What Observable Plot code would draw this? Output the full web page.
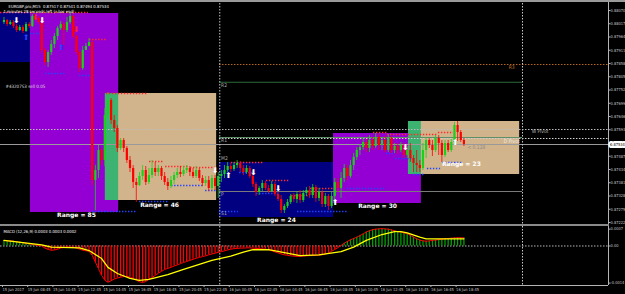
<!DOCTYPE html>
<html><head><meta charset="utf-8">
<script src="https://cdn.jsdelivr.net/npm/d3@7"></script>
<script src="https://cdn.jsdelivr.net/npm/@observablehq/plot@0.6"></script>
<style>
html,body{margin:0;padding:0;background:#000;}
#wrap{position:relative;width:625px;height:294px;background:#000;overflow:hidden;}
#main,#macd{position:absolute;left:0;}
#main{top:0;} #macd{top:224px;}
#sep{position:absolute;left:0;top:224px;width:609px;height:2px;background:#8a8a8a;}
#topbar{position:absolute;left:0;top:0;width:625px;height:2px;background:#9a9a9a;}
</style></head>
<body><div id="wrap"><div id="main"></div><div id="macd"></div><div id="sep"></div><div id="topbar"></div></div>
<script>
// ---------- data ----------
const open0 = 0.88022;
const closes = [0.88030,0.88014,0.88022,0.88006,0.87990,0.88002,0.87986,0.88014,0.88006,0.88046,
0.88038,0.88022,0.87910,0.87862,0.87902,0.87934,0.87966,0.87998,0.88014,0.87990,
0.88022,0.88046,0.87966,0.87902,0.87838,0.87910,0.87926,0.87942,0.87390,0.87430,
0.87510,0.87470,0.87650,0.87710,0.87630,0.87598,0.87518,0.87550,0.87518,0.87470,
0.87438,0.87382,0.87370,0.87406,0.87430,0.87382,0.87410,0.87438,0.87422,0.87438,
0.87406,0.87382,0.87366,0.87390,0.87410,0.87422,0.87414,0.87430,0.87438,0.87422,
0.87406,0.87430,0.87398,0.87378,0.87390,0.87358,0.87398,0.87366,0.87406,0.87414,
0.87430,0.87446,0.87434,0.87450,0.87458,0.87438,0.87422,0.87438,0.87406,0.87374,
0.87342,0.87358,0.87378,0.87358,0.87346,0.87374,0.87334,0.87314,0.87270,0.87286,
0.87302,0.87326,0.87314,0.87334,0.87310,0.87338,0.87350,0.87330,0.87362,0.87318,
0.87342,0.87294,0.87326,0.87286,0.87326,0.87382,0.87358,0.87398,0.87438,0.87406,
0.87450,0.87482,0.87510,0.87522,0.87542,0.87518,0.87550,0.87526,0.87562,0.87530,
0.87550,0.87510,0.87558,0.87510,0.87526,0.87510,0.87530,0.87490,0.87510,0.87478,
0.87458,0.87450,0.87438,0.87510,0.87550,0.87530,0.87510,0.87558,0.87538,0.87490,
0.87538,0.87510,0.87542,0.87610,0.87582,0.87550,0.87534];
const highs = [0.88042,0.88034,0.88030,0.88030,0.88014,0.88010,0.88010,0.88022,0.88022,0.88054,
0.88054,0.88046,0.88030,0.87918,0.87910,0.87950,0.87978,0.88006,0.88026,0.88022,
0.88042,0.88062,0.88050,0.87970,0.87910,0.87926,0.87938,0.87958,0.87950,0.87450,
0.87530,0.87518,0.87678,0.87742,0.87718,0.87650,0.87610,0.87558,0.87558,0.87526,
0.87486,0.87450,0.87398,0.87422,0.87450,0.87446,0.87438,0.87470,0.87462,0.87450,
0.87446,0.87422,0.87398,0.87406,0.87422,0.87438,0.87446,0.87446,0.87450,0.87446,
0.87438,0.87446,0.87438,0.87410,0.87406,0.87406,0.87410,0.87410,0.87422,0.87430,
0.87450,0.87462,0.87458,0.87462,0.87470,0.87466,0.87450,0.87450,0.87446,0.87414,
0.87382,0.87366,0.87390,0.87386,0.87370,0.87386,0.87382,0.87342,0.87330,0.87294,
0.87314,0.87334,0.87338,0.87346,0.87350,0.87350,0.87362,0.87366,0.87374,0.87370,
0.87358,0.87350,0.87338,0.87334,0.87342,0.87398,0.87398,0.87422,0.87454,0.87450,
0.87470,0.87498,0.87522,0.87534,0.87558,0.87554,0.87570,0.87562,0.87578,0.87574,
0.87562,0.87566,0.87574,0.87566,0.87538,0.87538,0.87542,0.87538,0.87526,0.87538,
0.87490,0.87510,0.87470,0.87538,0.87562,0.87558,0.87550,0.87570,0.87570,0.87550,
0.87550,0.87550,0.87554,0.87622,0.87626,0.87590,0.87558];
const lows = [0.88014,0.88006,0.88010,0.87998,0.87982,0.87986,0.87978,0.87982,0.87998,0.88002,
0.88030,0.88014,0.87898,0.87850,0.87842,0.87890,0.87918,0.87950,0.87990,0.87930,
0.87982,0.88014,0.87958,0.87890,0.87822,0.87830,0.87910,0.87926,0.87370,0.87270,
0.87398,0.87450,0.87446,0.87638,0.87614,0.87582,0.87502,0.87510,0.87502,0.87458,
0.87422,0.87358,0.87302,0.87366,0.87390,0.87370,0.87374,0.87398,0.87406,0.87406,
0.87390,0.87370,0.87350,0.87358,0.87374,0.87398,0.87402,0.87406,0.87418,0.87406,
0.87398,0.87398,0.87386,0.87366,0.87366,0.87346,0.87350,0.87350,0.87318,0.87382,
0.87398,0.87422,0.87422,0.87426,0.87438,0.87422,0.87410,0.87414,0.87398,0.87362,
0.87326,0.87330,0.87346,0.87350,0.87338,0.87342,0.87326,0.87306,0.87258,0.87258,
0.87278,0.87294,0.87302,0.87298,0.87298,0.87302,0.87326,0.87318,0.87318,0.87302,
0.87306,0.87282,0.87282,0.87270,0.87278,0.87302,0.87342,0.87318,0.87382,0.87390,
0.87398,0.87430,0.87470,0.87490,0.87510,0.87502,0.87502,0.87510,0.87518,0.87510,
0.87510,0.87502,0.87502,0.87498,0.87498,0.87494,0.87502,0.87478,0.87478,0.87462,
0.87422,0.87422,0.87422,0.87430,0.87478,0.87518,0.87486,0.87502,0.87490,0.87462,
0.87482,0.87502,0.87502,0.87534,0.87546,0.87542,0.87526];

// MACD histogram (one per bar) and signal line
const histogram = [0.00020,0.00019,0.00019,0.00018,0.00016,0.00014,0.00012,0.00010,0.00008,0.00006,
0.00004,0.00002,0.00000,-0.00008,-0.00013,-0.00016,-0.00015,-0.00012,-0.00008,-0.00005,
-0.00004,-0.00004,-0.00005,-0.00008,-0.00012,-0.00016,-0.00018,-0.00020,-0.00035,-0.00060,
-0.00085,-0.00110,-0.00128,-0.00136,-0.00130,-0.00124,-0.00120,-0.00117,-0.00115,-0.00114,
-0.00116,-0.00122,-0.00128,-0.00134,-0.00137,-0.00133,-0.00125,-0.00118,-0.00110,-0.00102,
-0.00095,-0.00088,-0.00084,-0.00080,-0.00075,-0.00071,-0.00066,-0.00062,-0.00058,-0.00054,
-0.00050,-0.00046,-0.00043,-0.00040,-0.00037,-0.00033,-0.00030,-0.00027,-0.00024,-0.00021,
-0.00018,-0.00015,-0.00012,-0.00010,-0.00009,-0.00008,-0.00008,-0.00007,-0.00007,-0.00008,
-0.00009,-0.00010,-0.00011,-0.00012,-0.00014,-0.00018,-0.00022,-0.00026,-0.00030,-0.00033,
-0.00035,-0.00037,-0.00038,-0.00039,-0.00039,-0.00038,-0.00037,-0.00036,-0.00036,-0.00035,
-0.00034,-0.00033,-0.00030,-0.00026,-0.00020,-0.00013,-0.00006,0.00002,0.00010,0.00017,
0.00023,0.00028,0.00033,0.00039,0.00045,0.00052,0.00057,0.00061,0.00063,0.00064,
0.00065,0.00064,0.00063,0.00060,0.00057,0.00054,0.00052,0.00049,0.00046,0.00040,
0.00033,0.00027,0.00022,0.00019,0.00018,0.00019,0.00021,0.00022,0.00024,0.00025,
0.00027,0.00028,0.00029,0.00030,0.00031,0.00031,0.00030];
const signalBar = [0,12,15,24,27,31,33,36,40,43,46,52,57,62,66,72,76,79,84,89,94,100,107,111,115,120,124,126,128,132,134,139,146];
const signalVal = [0.00021,0.00004,-0.00004,-0.00007,-0.00017,-0.00047,-0.00080,-0.00103,-0.00121,-0.00129,-0.00125,-0.00107,-0.00088,-0.00069,-0.00054,-0.00038,-0.00023,-0.00014,-0.00014,-0.00025,-0.00036,-0.00033,-0.00021,-0.00004,0.00021,0.00043,0.00054,0.00054,0.00049,0.00033,0.00027,0.00027,0.00027];

// session boxes
const boxStart = [-1.11, 8.4, 32.2, 32.2, 68.4, 104.6, 128.4, 128.4];
const boxEnd   = [8.4, 36.4, 67.5, 36.4, 104.6, 132.5, 163.7, 132.5];
const boxHigh  = [0.88062, 0.88058, 0.87738, 0.87738, 0.87462, 0.87578, 0.87626, 0.87626];
const boxLow   = [0.87862, 0.87262, 0.87310, 0.87310, 0.87242, 0.87298, 0.87414, 0.87414];
const boxColor = ["#000080","#9400d3","#d2b48c","#3cb371","#000080","#9400d3","#d2b48c","#3cb371"];
const rangeValue = [85, 46, 24, 30, 23];
const rangeBar   = [23, 49.4, 86.5, 118.6, 145.2];
const rangePrice = [0.87250, 0.87290, 0.87230, 0.87286, 0.87454];

// dotted high/low segments
const redSegStart = [-1.11, 27.2, 32.5, 46.2, 51.3, 59.2, 72.2, 83.3, 91.3, 97.3, 117.3, 121.7, 137.9];
const redSegEnd   = [26.8, 32.5, 45.6, 50.6, 58.6, 67.5, 82.7, 90.6, 97.3, 104.6, 121.7, 137.6, 142.7];
const redSegPrice = [0.88062, 0.87954, 0.87738, 0.87466, 0.87446, 0.87442, 0.87462, 0.87390, 0.87330, 0.87358, 0.87582, 0.87574, 0.87582];
const blueSegStart = [8.4, 13.2, 24, 28.1, 43, 53.2, 64, 74.8, 80.2, 68.4, 93.2, 109, 121.4, 124.3, 130, 134.4, 139.2];
const blueSegEnd   = [12.5, 19.5, 27.5, 42.4, 52.2, 63.7, 67.5, 79.2, 87.1, 74.4, 109.4, 121.1, 123.7, 130, 133.8, 138.6, 145.6];
const blueSegPrice = [0.87978, 0.87818, 0.87810, 0.87266, 0.87306, 0.87370, 0.87350, 0.87422, 0.87338, 0.87266, 0.87266, 0.87358, 0.87498, 0.87478, 0.87414, 0.87438, 0.87462];

// arrows
const arrowBar   = [4, 12.2, 67.1, 71.3, 79.2, 87.1, 105.2, 127.5, 143.3, 7.1, 18.3, 10, 23];
const arrowPrice = [0.88030, 0.88030, 0.87430, 0.87410, 0.87422, 0.87358, 0.87302, 0.87522, 0.87542, 0.87962, 0.87922, 0.88042, 0.87994];
const arrowDir   = ["down","down","down","up","down","down","up","down","up","up","up","down","down"];
const arrowColor = ["#ffffff","#ffffff","#ffffff","#ffffff","#ffffff","#ffffff","#ffffff","#ffffff","#ffffff","#2040ff","#2040ff","#ff2020","#ff2020"];

// pivot / level lines
const daySeparators = [68.5, 164.6];
const currentPrice = 0.87534;
const pivotLabels = ["R2", "R1", "M2", "P", "S1"];
const pivotLabelPrice = [0.87783, 0.87562, 0.87490, 0.87346, 0.87270];

const priceTicks = [0.88070,0.88017,0.87964,0.87911,0.87858,0.87805,0.87752,0.87699,0.87646,0.87593,0.87487,0.87434,0.87381,0.87328,0.87275,0.87222];
const macdTicks = [0.00063, 0, -0.00139];
const macdTickLabels = ["0.0007", "0.00", "-0.0014"];
const timeTickBar = [0,8,16,24,32,40,48,56,64,72,80,88,96,104,112,120,128,136,144];
const timeLabels = ["15 Jun 2017","15 Jun 08:45","15 Jun 10:45","15 Jun 12:45","15 Jun 14:45","15 Jun 16:45","15 Jun 18:45","15 Jun 20:45","15 Jun 22:45","16 Jun 00:45","16 Jun 02:45","16 Jun 04:45","16 Jun 06:45","16 Jun 08:45","16 Jun 10:45","16 Jun 12:45","16 Jun 14:45","16 Jun 16:45","16 Jun 18:45"];

// ---------- build tables ----------
const xDomain = [-1.11, 191.9];
const xEnd = xDomain[1];
const candles = closes.map((c, i) => ({i, open: i ? closes[i - 1] : open0, close: c, high: highs[i], low: lows[i]}));
const boxes = boxStart.map((s, k) => ({s, e: boxEnd[k], hi: boxHigh[k], lo: boxLow[k], c: boxColor[k]}));
const rangeLabels = rangeValue.map((v, k) => ({t: "Range = " + v, x: rangeBar[k], y: rangePrice[k]}));
const redSegs = redSegStart.map((s, k) => ({s, e: redSegEnd[k], y: redSegPrice[k]}));
const blueSegs = blueSegStart.map((s, k) => ({s, e: blueSegEnd[k], y: blueSegPrice[k]}));
const arrows = arrowBar.map((x, k) => ({x, y: arrowPrice[k], t: arrowDir[k] === "up" ? "\u2B06" : "\u2B07", c: arrowColor[k]}));
const solidLevels = [
  {y: 0.87783, s: 68.4, e: 164.6, c: "#2d6a3a"},
  {y: 0.87562, s: 68.4, e: 164.6, c: "#5e8f66"},
  {y: currentPrice, s: xDomain[0], e: xEnd, c: "#9a9a9a"},
  {y: 0.87346, s: 68.4, e: 164.6, c: "#7a7a7a"}
];
const dottedLevels = [
  {y: 0.87854, s: 68.4, e: xEnd, c: "#b8681e"},
  {y: 0.87594, s: xDomain[0], e: xEnd, c: "#bdbdbd"},
  {y: 0.87558, s: 68.4, e: xEnd, c: "#d0d0d0"}
];
const pivots = pivotLabels.map((t, k) => ({t, y: pivotLabelPrice[k]}));
const hist = histogram.map((v, i) => ({i, v}));
const signal = signalBar.map((i, k) => ({i, v: signalVal[k]}));

const UP = "#19d119", DOWN = "#ff0000";
const FONT = "'DejaVu Sans Condensed','Liberation Sans Narrow',sans-serif";
const style = {background: "transparent", color: "#c4c4c4", fontFamily: FONT, fontSize: "4px", overflow: "visible"};

const main = Plot.plot({
  width: 625, height: 224, marginLeft: 0, marginRight: 17, marginTop: 0, marginBottom: 0,
  x: {domain: xDomain, axis: null, label: null},
  y: {domain: [0.87214, 0.88110], label: null},
  style,
  marks: [
    Plot.rect(boxes, {x1: "s", x2: "e", y1: "lo", y2: "hi", fill: "c"}),
    Plot.ruleY(solidLevels, {y: "y", x1: "s", x2: "e", stroke: "c", strokeWidth: 1}),
    Plot.ruleY(dottedLevels, {y: "y", x1: "s", x2: "e", stroke: "c", strokeWidth: 1, strokeDasharray: "1.5,1.5"}),
    Plot.ruleX(daySeparators, {stroke: "#c8c8c8", strokeDasharray: "1.5,1.5", strokeWidth: 1}),
    Plot.ruleY(redSegs, {y: "y", x1: "s", x2: "e", stroke: "#ff2a2a", strokeWidth: 1.4, strokeDasharray: "1.4,1.6"}),
    Plot.ruleY(blueSegs, {y: "y", x1: "s", x2: "e", stroke: "#2244ff", strokeWidth: 1.4, strokeDasharray: "1.4,1.6"}),
    Plot.ruleX(candles, {x: "i", y1: "low", y2: "high", stroke: d => d.close < d.open ? DOWN : UP, strokeWidth: 0.8}),
    Plot.ruleX(candles, {x: "i", y1: "open", y2: "close", stroke: d => d.close < d.open ? DOWN : UP, strokeWidth: 2.2}),
    Plot.text(arrows, {x: "x", y: "y", text: "t", fill: "c", fontSize: 8, fontFamily: "DejaVu Sans"}),
    Plot.text(rangeLabels, {x: "x", y: "y", text: "t", fill: "#ffffff", fontSize: 6, fontWeight: "bold", fontFamily: "'DejaVu Sans',sans-serif"}),
    Plot.text(pivots, {x: 68.6, y: "y", text: "t", fill: "#a8a8a8", fontSize: 5, textAnchor: "start", dx: 1, dy: 3}),
    Plot.text(["R3"], {x: 160.2, y: 0.87842, fill: "#c0741f", fontSize: 5, textAnchor: "start"}),
    Plot.text(["W Pivot"], {x: 167.5, y: 0.87586, fill: "#b8b8b8", fontSize: 5, textAnchor: "start"}),
    Plot.text(["D Pivot"], {x: 163.7, y: 0.87546, fill: "#e8e8e8", fontSize: 5, textAnchor: "end"}),
    Plot.text(["< 0.128"], {x: 147.1, y: 0.87522, fill: "#8a8a8a", fontSize: 5, textAnchor: "start"}),
    Plot.text(["#43207S3 sell 0.05"], {x: xDomain[0], y: 0.87766, fill: "#dcdcdc", fontSize: 4.5, textAnchor: "start", dx: 5}),
    Plot.text(["EURGBP,pro,M15  0.87517 0.87541 0.87494 0.87534"], {frameAnchor: "top-left", dx: 8, dy: 4.5, fill: "#ffffff", fontSize: 4.2, textAnchor: "start"}),
    Plot.text(["1 minutes 28 seconds left (x bar end)"], {frameAnchor: "top-left", dx: 3, dy: 9.5, fill: "#ffffff", fontSize: 4.2, textAnchor: "start"}),
    Plot.ruleX([xEnd], {stroke: "#b4b4b4", strokeWidth: 1}),
    Plot.axisY(priceTicks, {anchor: "right", label: null, tickFormat: d3.format(".5f"), tickSize: 1.5, tickPadding: 0.5, fontSize: 4, stroke: "#b4b4b4"}),
    Plot.text([currentPrice], {x: xEnd, y: d => d, text: d => d3.format(".5f")(d), dx: 1.5, textAnchor: "start", fill: "#000000", stroke: "#ffffff", strokeWidth: 4, paintOrder: "stroke", fontSize: 4})
  ]
});
document.getElementById("main").appendChild(main);

const macd = Plot.plot({
  width: 625, height: 70, marginLeft: 0, marginRight: 17, marginTop: 2, marginBottom: 9,
  x: {domain: xDomain, label: null},
  y: {domain: [-0.00148, 0.00073], label: null},
  style,
  marks: [
    Plot.ruleY([0], {stroke: "#b8b8b8", strokeDasharray: "1.5,1.5", strokeWidth: 1}),
    Plot.ruleX(daySeparators, {stroke: "#c8c8c8", strokeDasharray: "1.5,1.5", strokeWidth: 1}),
    Plot.ruleX(hist, {x: "i", y1: 0, y2: "v", stroke: d => d.v < 0 ? "#ff0000" : "#00a000", strokeWidth: 1.3}),
    Plot.line(hist, {x: "i", y: "v", stroke: "#ff0000", strokeWidth: 1}),
    Plot.line(signal, {x: "i", y: "v", stroke: "#ffff00", strokeWidth: 1.3}),
    Plot.text(["MACD (12,26,9) 0.0003 0.0003 0.0002"], {frameAnchor: "top-left", dx: 3, dy: 3.5, fill: "#ffffff", fontSize: 4.2, textAnchor: "start"}),
    Plot.ruleX([xEnd], {stroke: "#b4b4b4", strokeWidth: 1}),
    Plot.ruleY([-0.00148], {stroke: "#b4b4b4", strokeWidth: 1}),
    Plot.axisY(macdTicks, {anchor: "right", label: null, tickFormat: d => macdTickLabels[macdTicks.indexOf(d)], tickSize: 1.5, tickPadding: 0.5, fontSize: 4, stroke: "#b4b4b4"}),
    Plot.axisX(timeTickBar, {anchor: "bottom", label: null, tickFormat: d => timeLabels[timeTickBar.indexOf(d)], tickSize: 2, tickPadding: 1, textAnchor: "start", dx: -1.5, fontSize: 4, stroke: "#b4b4b4"})
  ]
});
document.getElementById("macd").appendChild(macd);
</script>
</body></html>
